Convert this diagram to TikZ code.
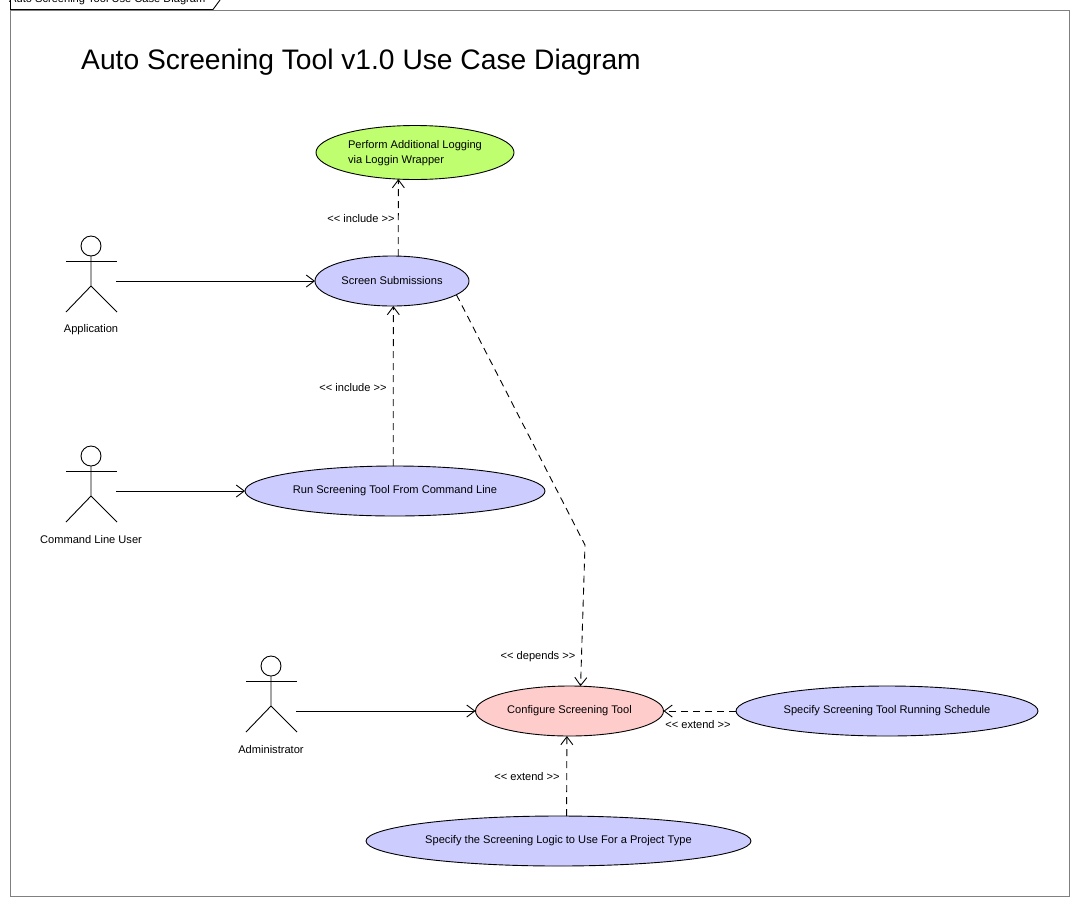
\documentclass[tikz,border=0pt]{standalone}
\usepackage{fontspec}
\setmainfont{Liberation Sans}
\usetikzlibrary{shapes.geometric,arrows.meta}
\definecolor{ucblue}{HTML}{CCCCFF}
\definecolor{ucpink}{HTML}{FFCCCC}
\definecolor{ucgreen}{HTML}{BFFF6F}
\newcommand{\opn}{<{}<}
\newcommand{\cls}{>{}>}
\tikzset{
  usecase/.style={ellipse,draw=black,line width=0.9pt,inner sep=0pt,outer sep=0pt,font=\fontsize{11.1}{15}\selectfont},
  lbl/.style={inner sep=0pt,font=\fontsize{11.1}{13}\selectfont},
  assoc/.style={line width=0.9pt,-{Straight Barb[length=8pt,width=12pt,line width=0.9pt]}},
  dep/.style={assoc,dash pattern=on 7pt off 5pt},
  actorline/.style={line width=0.9pt},
  pics/stickman/.style={code={
    \draw[actorline] (0,-35) circle[radius=10];
    \draw[actorline] (-25,-20) -- (26,-20);
    \draw[actorline] (0,-25) -- (0,5) (-25,31) -- (0,5) -- (26,31);
  }}
}
\begin{document}
\begin{tikzpicture}[x=1pt,y=-1pt]
\useasboundingbox (0,0) rectangle (1079,906);
\begin{scope}
\clip (0,0) rectangle (1079,906);
\fill[white] (0,0) rectangle (1079,906);
\draw[draw=black!50,line width=0.9pt] (10.5,10.5) rectangle (1069,896);
\draw[line width=0.9pt] (10.5,0) -- (10.5,9.5) -- (213,9.5) -- (220,0);
\node[lbl,anchor=west] (tag) at (9,0) {Auto Screening Tool Use Case Diagram};
\end{scope}
\node[anchor=west,inner sep=0pt,font=\fontsize{28.2}{32}\selectfont] (title) at (81,62) {Auto Screening Tool v1.0 Use Case Diagram};

\node[usecase,fill=ucgreen,minimum width=198pt,minimum height=54pt,align=left] (perform) at (415,152.5) {\rule{0pt}{9pt}Perform Additional Logging\\via Loggin Wrapper};
\node[usecase,fill=ucblue,minimum width=154pt,minimum height=50pt] (screen) at (392,281) {Screen Submissions};
\node[usecase,fill=ucblue,minimum width=300pt,minimum height=50pt] (run) at (395,491) {Run Screening Tool From Command Line};
\node[usecase,fill=ucpink,minimum width=188pt,minimum height=50pt] (config) at (569.5,711) {Configure Screening Tool};
\node[usecase,fill=ucblue,minimum width=302pt,minimum height=50pt] (schedule) at (887,711) {Specify Screening Tool Running Schedule};
\node[usecase,fill=ucblue,minimum width=385pt,minimum height=50pt] (logic) at (558.5,841) {Specify the Screening Logic to Use For a Project Type};

\pic at (91,281) {stickman};
\pic at (91,491) {stickman};
\pic at (271,701) {stickman};
\coordinate (apphand) at (116,281);
\coordinate (cmdhand) at (116,491);
\coordinate (adminhand) at (296,711);
\coordinate (bend) at (585,545);
\node[lbl] (applabel) at (91,330) {Application};
\node[lbl] (cmdlabel) at (91,540) {Command Line User};
\node[lbl] (adminlabel) at (271,750) {Administrator};

\draw[assoc] (apphand) -- (screen.west);
\draw[assoc] (cmdhand) -- (run.west);
\draw[assoc] (adminhand) -- (config.west);
\draw[dep] (screen.76.5) -- (perform.-122);
\draw[dep] (run.94.6) -- (screen.-87.7);
\draw[dep] (screen.-12) -- (bend) -- (config.66.3);
\draw[dep] (schedule.west) -- (config.east);
\draw[dep] (logic.72) -- (config.-96.8);

\node[lbl] (l1) at (361,219) {\opn{} include \cls};
\node[lbl] (l2) at (353,388) {\opn{} include \cls};
\node[lbl] (l3) at (538,657) {\opn{} depends \cls};
\node[lbl] (l4) at (698,725) {\opn{} extend \cls};
\node[lbl] (l5) at (527,777) {\opn{} extend \cls};
\end{tikzpicture}
\end{document}
